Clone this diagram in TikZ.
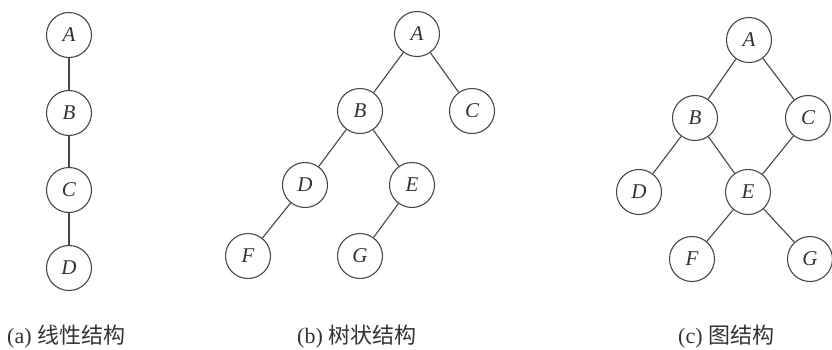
\documentclass[tikz,border=0pt]{standalone}
\usepackage{fontspec}
\setmainfont{Liberation Serif}
\newfontfamily\cjk{Noto Sans CJK SC}
\begin{document}
\begin{tikzpicture}[x=1pt,y=-1pt,
  vtx/.style={circle,draw=black!72,line width=1.1pt,minimum size=45pt,inner sep=0pt,
    font=\fontsize{21}{21}\selectfont\itshape,text=black!80},
  link/.style={draw=black!72,line width=1.1pt},
  captext/.style={anchor=base west,inner sep=0pt,text=black!80,
    font=\fontsize{22}{22}\selectfont}]
\fill[white] (0,0) rectangle (832,349);
\useasboundingbox (0,0) rectangle (832,349);

% (a) linear structure
\node[vtx] (aA) at (69,35)  {A};
\node[vtx] (aB) at (69,113) {B};
\node[vtx] (aC) at (69,190) {C};
\node[vtx] (aD) at (69,268) {D};
\draw[link] (aA) -- (aB) (aB) -- (aC) (aC) -- (aD);

% (b) tree structure
\node[vtx] (bA) at (417,34)  {A};
\node[vtx] (bB) at (360,111) {B};
\node[vtx] (bC) at (472,111) {C};
\node[vtx] (bD) at (305,185) {D};
\node[vtx] (bE) at (412,185) {E};
\node[vtx] (bF) at (248,256) {F};
\node[vtx] (bG) at (360,256) {G};
\draw[link] (bA) -- (bB) (bA) -- (bC) (bB) -- (bD) (bB) -- (bE)
            (bD) -- (bF) (bE) -- (bG);

% (c) graph structure
\node[vtx] (cA) at (749,40)  {A};
\node[vtx] (cB) at (695,118) {B};
\node[vtx] (cC) at (808,118) {C};
\node[vtx] (cD) at (639,192) {D};
\node[vtx] (cE) at (748,192) {E};
\node[vtx] (cF) at (692,259) {F};
\node[vtx] (cG) at (810,259) {G};
\draw[link] (cA) -- (cB) (cA) -- (cC) (cB) -- (cD) (cB) -- (cE)
            (cC) -- (cE) (cE) -- (cF) (cE) -- (cG);

% captions
\node[captext] (capa) at (7,343)   {(a) {\cjk 线性结构}};
\node[captext] (capb) at (297,343) {(b) {\cjk 树状结构}};
\node[captext] (capc) at (678,343) {(c) {\cjk 图结构}};
\end{tikzpicture}
\end{document}
